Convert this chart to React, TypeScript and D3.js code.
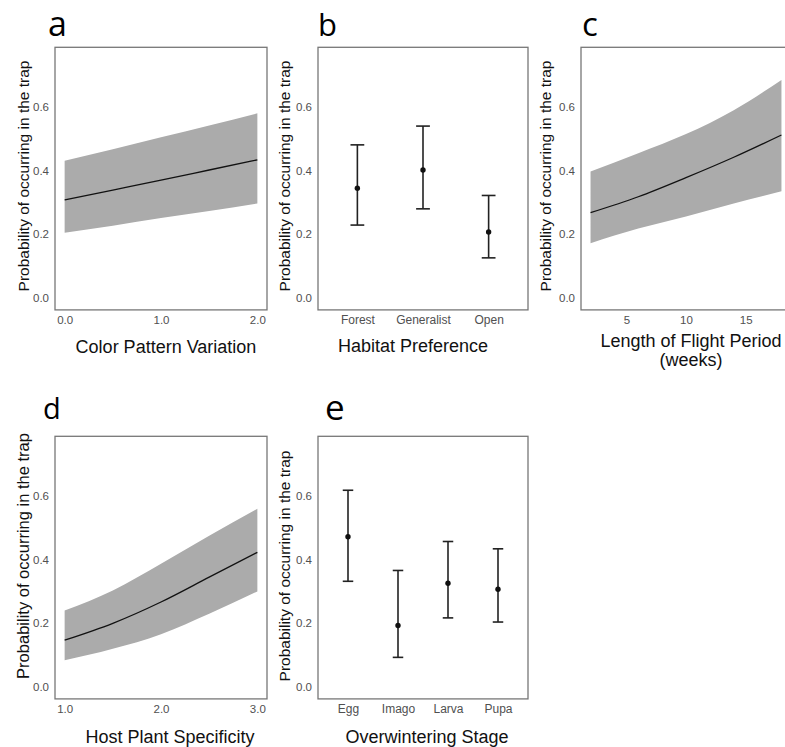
import * as d3 from "d3";
import { useEffect, useRef } from "react";

// y ticks shared by all panels
const yTicks = [0, 0.2, 0.4, 0.6];

// a - color pattern variation
const colorX = [0, 0.5, 1, 1.5, 2];
const colorFit = [0.308, 0.339, 0.37, 0.402, 0.434];
const colorLow = [0.205, 0.227, 0.251, 0.273, 0.297];
const colorHigh = [0.431, 0.467, 0.505, 0.542, 0.58];
const colorTicks = [0, 1, 2];

// b - habitat preference
const habitatCats = ["Forest", "Generalist", "Open"];
const habitatFit = [0.345, 0.402, 0.207];
const habitatLow = [0.229, 0.28, 0.126];
const habitatHigh = [0.481, 0.54, 0.322];

// c - length of flight period
const flightX = [2, 6, 10, 14, 18];
const flightFit = [0.268, 0.318, 0.378, 0.442, 0.512];
const flightLow = [0.172, 0.218, 0.256, 0.297, 0.335];
const flightHigh = [0.397, 0.455, 0.515, 0.59, 0.685];
const flightTicks = [5, 10, 15];

// d - host plant specificity
const hostX = [1, 1.5, 2, 2.5, 3];
const hostFit = [0.147, 0.2, 0.267, 0.345, 0.423];
const hostLow = [0.084, 0.12, 0.166, 0.23, 0.3];
const hostHigh = [0.24, 0.303, 0.387, 0.475, 0.56];
const hostTicks = [1, 2, 3];

// e - overwintering stage
const stageCats = ["Egg", "Imago", "Larva", "Pupa"];
const stageFit = [0.472, 0.193, 0.326, 0.307];
const stageLow = [0.332, 0.093, 0.217, 0.204];
const stageHigh = [0.618, 0.366, 0.457, 0.434];

const FONT = "'Liberation Sans', Arial, sans-serif";

export default function App() {
    const ref = useRef<SVGSVGElement>(null);

    useEffect(() => {
        const svg = d3.select(ref.current);
        svg.selectAll("*").remove();

        const yDomain: [number, number] = [-0.0375, 0.7875];
        const rows = [
            d3.scaleLinear().domain(yDomain).range([309.9, 47.3]),
            d3.scaleLinear().domain(yDomain).range([698.9, 436.3]),
        ];

        const panels = [
            { kind: "line", row: 0, left: 55, right: 267, letter: "a", lx: 48, ly: 36, lsize: 34,
              xs: colorX, fit: colorFit, low: colorLow, high: colorHigh, ticks: colorTicks, fmt: ".1f",
              title: ["Color Pattern Variation"], tx: 166, ty: 353, yx: 29, yy: 176, ysize: 15.5 },
            { kind: "cat", row: 0, left: 318, right: 528, letter: "b", lx: 318, ly: 36, lsize: 31,
              cats: habitatCats, fit: habitatFit, low: habitatLow, high: habitatHigh,
              title: ["Habitat Preference"], tx: 413, ty: 352, yx: 290, yy: 176, ysize: 15.5 },
            { kind: "line", row: 0, left: 581, right: 791, letter: "c", lx: 582, ly: 36, lsize: 33,
              xs: flightX, fit: flightFit, low: flightLow, high: flightHigh, ticks: flightTicks, fmt: "d",
              title: ["Length of Flight Period", "(weeks)"], tx: 691, ty: 347, yx: 551, yy: 176, ysize: 15.5 },
            { kind: "line", row: 1, left: 55, right: 267, letter: "d", lx: 43, ly: 419, lsize: 29,
              xs: hostX, fit: hostFit, low: hostLow, high: hostHigh, ticks: hostTicks, fmt: ".1f",
              title: ["Host Plant Specificity"], tx: 170, ty: 743, yx: 29, yy: 556, ysize: 16.5 },
            { kind: "cat", row: 1, left: 318, right: 528, letter: "e", lx: 325, ly: 420, lsize: 35,
              cats: stageCats, fit: stageFit, low: stageLow, high: stageHigh,
              title: ["Overwintering Stage"], tx: 427, ty: 743, yx: 290, yy: 566, ysize: 15.5 },
        ];

        panels.forEach((p: any) => {
            const y = rows[p.row];
            const [bottom, top] = y.range();
            const g = svg.append("g");

            let x: any;
            if (p.kind === "line") {
                const ext = d3.extent(p.xs as number[]) as [number, number];
                const pad = (ext[1] - ext[0]) * 0.05;
                x = d3.scaleLinear().domain([ext[0] - pad, ext[1] + pad]).range([p.left, p.right]);
            } else {
                x = d3.scalePoint().domain(p.cats).range([p.left, p.right]).padding(0.6);
            }

            // Data
            if (p.kind === "line") {
                const pts = p.xs.map((v: number, i: number) => ({ x: v, fit: p.fit[i], low: p.low[i], high: p.high[i] }));
                const area = d3.area<any>()
                    .x(d => x(d.x))
                    .y0(d => y(d.low))
                    .y1(d => y(d.high))
                    .curve(d3.curveMonotoneX);
                const line = d3.line<any>()
                    .x(d => x(d.x))
                    .y(d => y(d.fit))
                    .curve(d3.curveMonotoneX);
                g.append("path").attr("d", area(pts)).attr("fill", "#ababab");
                g.append("path").attr("d", line(pts)).attr("fill", "none")
                    .attr("stroke", "#111").attr("stroke-width", 1.3);
            } else {
                const pts = p.cats.map((c: string, i: number) => ({ c, fit: p.fit[i], low: p.low[i], high: p.high[i] }));
                const cap = x.step() * 0.21;
                const bars = g.selectAll("g.bar").data(pts).join("g")
                    .attr("stroke", "#222").attr("stroke-width", 1.6);
                bars.append("line")
                    .attr("x1", (d: any) => x(d.c)).attr("x2", (d: any) => x(d.c))
                    .attr("y1", (d: any) => y(d.low)).attr("y2", (d: any) => y(d.high));
                bars.append("line")
                    .attr("x1", (d: any) => x(d.c) - cap / 2).attr("x2", (d: any) => x(d.c) + cap / 2)
                    .attr("y1", (d: any) => y(d.high)).attr("y2", (d: any) => y(d.high));
                bars.append("line")
                    .attr("x1", (d: any) => x(d.c) - cap / 2).attr("x2", (d: any) => x(d.c) + cap / 2)
                    .attr("y1", (d: any) => y(d.low)).attr("y2", (d: any) => y(d.low));
                g.selectAll("circle").data(pts).join("circle")
                    .attr("cx", (d: any) => x(d.c)).attr("cy", (d: any) => y(d.fit))
                    .attr("r", 2.7).attr("fill", "#111");
            }

            // Panel border
            g.append("rect")
                .attr("x", p.left).attr("y", top)
                .attr("width", p.right - p.left).attr("height", bottom - top)
                .attr("fill", "none").attr("stroke", "#777").attr("stroke-width", 1.3);

            // Axes
            const yAxis = g.append("g")
                .attr("transform", `translate(${p.left},0)`)
                .call(d3.axisLeft(y).tickValues(yTicks).tickSize(0).tickPadding(6).tickFormat(d3.format(".1f")));
            const xAxisGen = p.kind === "line"
                ? d3.axisBottom(x).tickValues(p.ticks).tickSize(0).tickPadding(6).tickFormat(d3.format(p.fmt))
                : d3.axisBottom(x).tickSize(0).tickPadding(6);
            const xAxis = g.append("g")
                .attr("transform", `translate(0,${bottom})`)
                .call(xAxisGen as any);
            [yAxis, xAxis].forEach((ax, k) => {
                ax.select(".domain").remove();
                ax.selectAll("text")
                    .attr("fill", "#505050")
                    .style("font-size", k === 1 && p.kind === "cat" ? "12px" : "11.5px")
                    .style("font-family", FONT);
            });

            // Titles
            const title = g.append("text")
                .attr("x", p.tx).attr("y", p.ty)
                .attr("text-anchor", "middle")
                .style("font-family", FONT).style("font-size", "18px").attr("fill", "#111");
            p.title.forEach((t: string, i: number) => {
                title.append("tspan").attr("x", p.tx).attr("dy", i === 0 ? 0 : 19).text(t);
            });

            g.append("text")
                .attr("transform", `translate(${p.yx},${p.yy}) rotate(-90)`)
                .attr("text-anchor", "middle")
                .style("font-family", FONT).style("font-size", `${p.ysize}px`).attr("fill", "#111")
                .text("Probability of occurring in the trap");

            g.append("text")
                .attr("x", p.lx).attr("y", p.ly)
                .style("font-family", "'Open Sans', 'Noto Sans', sans-serif")
                .style("font-size", `${p.lsize}px`).attr("fill", "#000")
                .text(p.letter);
        });
    }, []);

    return (
        <div style={{ position: "absolute", left: 0, top: 0, width: 785, height: 747, background: "#fff" }}>
            <svg ref={ref} width={785} height={747}></svg>
        </div>
    );
}
